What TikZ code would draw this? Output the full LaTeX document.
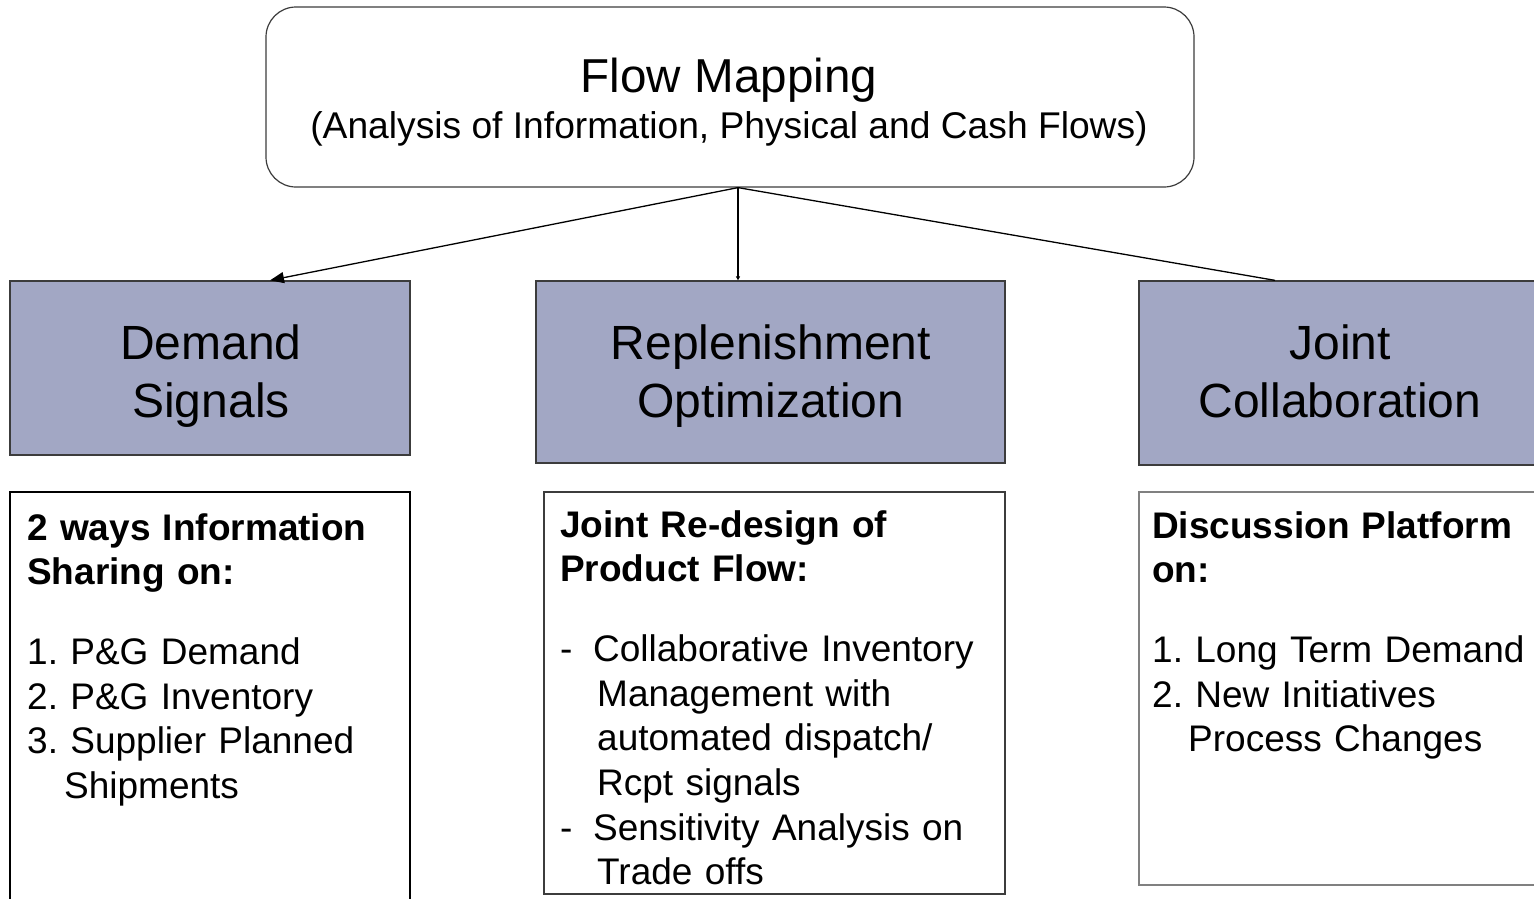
\documentclass[tikz,border=0pt]{standalone}
\usepackage{fontspec}
\setmainfont{Liberation Sans}
\usetikzlibrary{arrows.meta,calc}
\definecolor{boxblue}{HTML}{A2A7C4}
\definecolor{boxedge}{HTML}{3C3C3C}
\definecolor{grayedge}{HTML}{808080}
\frenchspacing
\tikzset{
  topbox/.style={draw=boxedge, line width=1.2pt, rounded corners=30pt, fill=white, inner sep=0pt},
  bluebox/.style={draw=boxedge, line width=1.3pt, fill=boxblue, inner sep=0pt},
  bluetext/.style={align=center, inner sep=0pt, font=\fontsize{48}{58}\selectfont},
  whitebox/.style={draw=black, line width=1.2pt, fill=white, inner sep=0pt},
  listtext/.style={anchor=north west, inner sep=0pt, text width=390pt, align=left,
    font=\fontsize{37}{44.7}\selectfont},
  conn/.style={draw=black, line width=1.3pt},
}
\begin{document}
\begin{tikzpicture}[x=1pt,y=-1pt]
\useasboundingbox (0,0) rectangle (1534,898);
\clip (0,0) rectangle (1534,898);

% top box
\node[topbox, minimum width=928pt, minimum height=180pt] (top) at (730,97) {};
\node[align=center, inner sep=0pt] (toptext) at (729,102)
  {{\fontsize{47.6}{50}\selectfont Flow Mapping}\\[8pt]
   {\fontsize{37.2}{45}\selectfont (Analysis of Information, Physical and Cash Flows)}};
\coordinate (hub) at ([xshift=8pt]top.south);

% blue boxes
\node[bluebox, minimum width=400pt, minimum height=174pt] (demand) at (210,368) {};
\node[bluebox, minimum width=469pt, minimum height=182pt] (repl) at (770.5,372) {};
\node[bluebox, minimum width=402pt, minimum height=184pt] (joint) at (1340,373) {};
\node[bluetext] (demandtext) at (211,376) {Demand\\Signals};
\node[bluetext] (repltext) at (771,376) {Replenishment\\Optimization};
\node[bluetext] (jointtext) at (1340,371) {Joint\\Collaboration};

% connectors
\draw[conn, -{Triangle[length=14pt,width=11pt]}] (hub) -- ([xshift=60pt]demand.north);
\draw[conn, -{Triangle[length=4pt,width=4pt]}] (hub) -- (hub |- repl.north);
\draw[conn] (hub) -- ([xshift=-65pt]joint.north);

% lower boxes
\node[whitebox, minimum width=400pt, minimum height=440pt] (dbox) at (210,712) {};
\node[whitebox, draw=boxedge, minimum width=461pt, minimum height=402pt] (rbox) at (774.5,693) {};
\node[whitebox, draw=grayedge, line width=2pt, minimum width=406pt, minimum height=393pt] (jbox) at (1342,688.5) {};

% texts
\node[listtext] (dtext) at (27,513) {%
\textbf{2 ways Information}\\
\textbf{Sharing on:}\\[35pt]
1. P\&G Demand\\
2. P\&G Inventory\\
3. Supplier Planned\\
\hspace*{37pt}Shipments};

\node[listtext, text width=440pt] (rtext) at (560,510) {%
\textbf{Joint Re-design of}\\
\textbf{Product Flow:}\\[35pt]
\makebox[33pt][l]{-}Collaborative Inventory\\
\hspace*{37pt}Management with\\
\hspace*{37pt}automated dispatch/\\
\hspace*{37pt}Rcpt signals\\
\makebox[33pt][l]{-}Sensitivity Analysis on\\
\hspace*{37pt}Trade offs};

\node[listtext] (jtext) at (1152,511) {%
\textbf{Discussion Platform}\\
\textbf{on:}\\[35pt]
1. Long Term Demand\\
2. New Initiatives\\
\hspace*{36pt}Process Changes};
\end{tikzpicture}
\end{document}
